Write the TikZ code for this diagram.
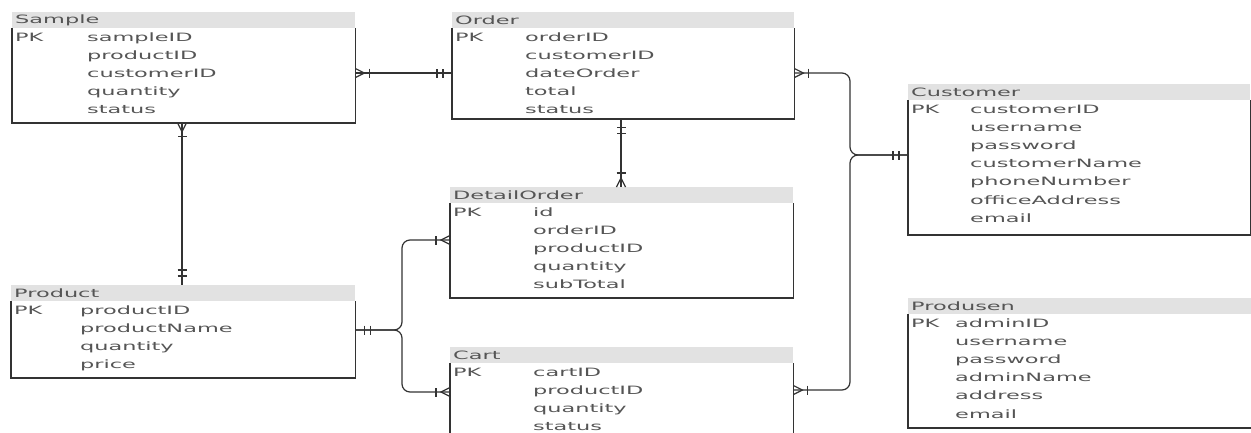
\documentclass[tikz,border=0pt]{standalone}
\usepackage{fontspec}
\newfontfamily\erfont[FakeStretch=1.95]{DejaVu Sans}
\definecolor{hdrgray}{HTML}{E2E2E2}
\definecolor{txtgray}{HTML}{555555}
\definecolor{linegray}{HTML}{333333}

\tikzset{
  hdr/.style={fill=hdrgray, draw=none, minimum height=16pt, inner sep=0pt},
  body/.style={fill=white, draw=none, inner sep=0pt},
  border/.style={draw=linegray, line width=1.4pt},
  ttl/.style={font=\erfont\fontsize{11.5}{14}\selectfont, text=txtgray, inner sep=0pt},
  fld/.style={font=\erfont\fontsize{11.5}{14}\selectfont, text=txtgray, inner sep=0pt},
  conn/.style={draw=linegray, line width=1.2pt},
  route/.style={conn, rounded corners=8pt},
  % crow's foot with one bar: one or many
  crowbar/.pic={
    \draw[conn] (0,-4.5) -- (9,0) -- (0,4.5);
    \draw[conn] (14,-4.5) -- (14,4.5);
  },
  % two bars: exactly one
  dblbar/.pic={
    \draw[conn] (9,-4.5) -- (9,4.5);
    \draw[conn] (15,-4.5) -- (15,4.5);
  }
}

% entity box: name, left, top, right, bottom, title, field column x, fields
\newcommand\entity[8]{%
  \node[hdr, minimum width={#4-#2}, anchor=north west] (#1H) at (#2,#3) {};
  \node[ttl, anchor=west] (#1T) at ([xshift=3pt]#1H.west) {#6};
  \node[body, minimum width={#4-#2}, minimum height={#5-#3-16}, anchor=north west] (#1) at (#1H.south west) {};
  \draw[border] (#1.north west) |- (#1.south east) -- (#1.north east);
  \node[fld, anchor=base west] (#1PK) at ({#2+3}, {#3+29}) {PK};
  \foreach \f [count=\i from 0] in {#8} {
    \node[fld, anchor=base west] (#1F\i) at (#7, {#3+29+18.2*\i}) {\f};
  }
}

\begin{document}
\begin{tikzpicture}[x=1pt, y=-1pt]
\clip (0,0) rectangle (1251,432);
\fill[white] (0,0) rectangle (1251,432);

\entity{sample}{12}{12}{355}{122}{Sample}{87}{sampleID,productID,customerID,quantity,status}
\entity{order}{452}{12}{794}{118}{Order}{525}{orderID,customerID,dateOrder,total,status}
\entity{customer}{908}{84}{1250}{234}{Customer}{970}{customerID,username,password,customerName,phoneNumber,officeAddress,email}
\entity{product}{11}{285}{355}{377}{Product}{80}{productID,productName,quantity,price}
\entity{detail}{450}{187}{793}{297}{DetailOrder}{533}{id,orderID,productID,quantity,subTotal}
\entity{cart}{450}{347}{793}{445}{Cart}{533}{cartID,productID,quantity,status}
\entity{produsen}{908}{298}{1251}{427}{Produsen}{955}{adminID,username,password,adminName,address,email}

% connector end points on the box edges
\coordinate (sampleR) at (sample.east |- 0,73);
\coordinate (orderL) at (order.west |- 0,73);
\coordinate (orderR) at (order.east |- 0,73);
\coordinate (custL) at (customer.west |- 0,155);
\coordinate (cartR) at (cart.east |- 0,390);
\coordinate (orderB) at (order.south -| 621,0);
\coordinate (detailT) at (detailH.north -| 621,0);
\coordinate (sampleB) at (sample.south -| 182,0);
\coordinate (productT) at (productH.north -| 182,0);
\coordinate (productR) at (product.east |- 0,330);
\coordinate (detailL) at (detail.west |- 0,240);
\coordinate (cartL) at (cart.west |- 0,392);
% junctions of the branched connectors
\coordinate (jc) at (850,155);
\coordinate (jp) at (402,330);

% connectors
\draw[conn] (sampleR) -- (orderL);
\draw[route] (orderR) -| (jc) -- (custL);
\draw[route] (cartR) -| (jc) -- (custL);
\draw[conn] (orderB) -- (detailT);
\draw[conn] (sampleB) -- (productT);
\draw[route] (productR) -- (jp) |- (detailL);
\draw[route] (productR) -- (jp) |- (cartL);

% cardinality marks
\pic at (sampleR) {crowbar};
\pic[rotate=180] at (orderL) {dblbar};
\pic at (orderR) {crowbar};
\pic at (cartR) {crowbar};
\pic[rotate=180] at (custL) {dblbar};
\pic[rotate=-90] at (orderB) {dblbar};
\pic[rotate=90] at (detailT) {crowbar};
\pic[rotate=-90] at (sampleB) {crowbar};
\pic[rotate=90] at (productT) {dblbar};
\pic at (productR) {dblbar};
\pic[rotate=180] at (detailL) {crowbar};
\pic[rotate=180] at (cartL) {crowbar};
\end{tikzpicture}
\end{document}
